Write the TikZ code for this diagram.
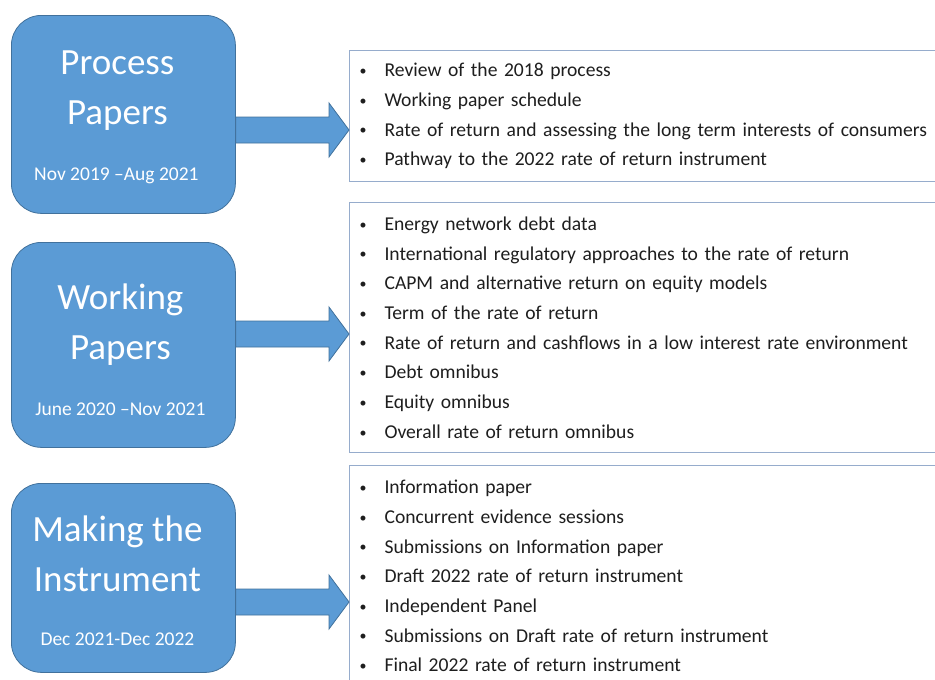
\documentclass[tikz,border=0pt]{standalone}
\usepackage{fontspec}
\setmainfont{Carlito}
\usepackage{xcolor}
\usepackage{tikz}
\usetikzlibrary{positioning,calc}
\definecolor{phaseblue}{RGB}{91,155,213}
\definecolor{phaseedge}{RGB}{65,113,156}
\definecolor{listedge}{RGB}{150,172,204}
\definecolor{listtext}{RGB}{30,30,30}
\newcommand{\bitem}[1]{\makebox[25pt][l]{\raisebox{1.2pt}{\fontsize{14}{14}\selectfont\textbullet}}#1}

\begin{document}
\begin{tikzpicture}[
  x=1pt, y=-1pt,
  phase/.style={draw=phaseedge,line width=0.8pt,fill=phaseblue,rounded corners=30pt,
    anchor=north west,minimum width=224pt},
  phasetitle/.style={text=white,align=center,font=\fontsize{37}{50}\selectfont},
  phasedate/.style={text=white,font=\fontsize{19.5}{22}\selectfont},
  listbox/.style={draw=listedge,line width=1.1pt,fill=white,anchor=north west,
    inner xsep=10pt,text width=580pt,align=left,text=listtext,
    font=\fontsize{19.6}{29.7}\selectfont},
  fatarrow/.style={draw=phaseedge,line width=0.8pt,fill=phaseblue,line join=miter}
]
\path[use as bounding box,clip] (0,0) rectangle (935,680);

% phases on the left
\node[phase,minimum height=198pt] (proc) at (11,15) {};
\node[phasetitle] (procT) at ([xshift=-6pt,yshift=24pt]proc.center) {Process\\Papers};
\node[phasedate] (procD) at ([xshift=-7pt,yshift=38pt]proc.south) {Nov 2019 --Aug 2021};

\node[phase,minimum height=205pt] (work) at (11,242) {};
\node[phasetitle] (workT) at ([xshift=-3pt,yshift=20pt]work.center) {Working\\Papers};
\node[phasedate] (workD) at ([xshift=-3pt,yshift=39pt]work.south) {June 2020 --Nov 2021};

\node[phase,minimum height=189pt] (inst) at (11,483) {};
\node[phasetitle] (instT) at ([xshift=-6pt,yshift=24pt]inst.center) {Making the\\Instrument};
\node[phasedate] (instD) at ([xshift=-6pt,yshift=34pt]inst.south) {Dec 2021-Dec 2022};

% lists on the right
\node[listbox,minimum height=131pt] (procL) at (349,50) {%
  \bitem{Review of the 2018 process}\\
  \bitem{Working paper schedule}\\
  \bitem{Rate of return and assessing the long term interests of consumers}\\
  \bitem{Pathway to the 2022 rate of return instrument}};

\node[listbox,minimum height=250pt] (workL) at (349,202) {%
  \bitem{Energy network debt data}\\
  \bitem{International regulatory approaches to the rate of return}\\
  \bitem{CAPM and alternative return on equity models}\\
  \bitem{Term of the rate of return}\\
  \bitem{Rate of return and cashflows in a low interest rate environment}\\
  \bitem{Debt omnibus}\\
  \bitem{Equity omnibus}\\
  \bitem{Overall rate of return omnibus}};

\node[listbox,minimum height=221pt] (instL) at (349,465) {%
  \bitem{Information paper}\\
  \bitem{Concurrent evidence sessions}\\
  \bitem{Submissions on Information paper}\\
  \bitem{Draft 2022 rate of return instrument}\\
  \bitem{Independent Panel}\\
  \bitem{Submissions on Draft rate of return instrument}\\
  \bitem{Final 2022 rate of return instrument}};

% block arrows, tip on the list's left edge
\coordinate (procA) at (0,130);
\coordinate (workA) at (0,334);
\coordinate (instA) at (0,602);
\foreach \p in {proc,work,inst}{
  \draw[fatarrow] (\p.east |- \p A) ++(0,-13) -- ($(\p L.west |- \p A)+(-20,-13)$)
    -- ++(0,-14) -- (\p L.west |- \p A) -- ++(-20,27) -- ++(0,-14)
    -- ($(\p.east |- \p A)+(0,13)$) -- cycle;
}
\end{tikzpicture}
\end{document}
